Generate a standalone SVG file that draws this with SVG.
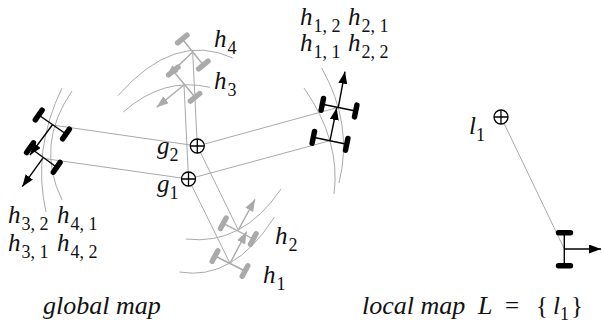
<svg xmlns="http://www.w3.org/2000/svg" width="602" height="324" viewBox="0 0 602 324">
<style>
text{font-family:"Liberation Serif","Times New Roman",serif;font-size:25px;fill:#111}
.i{font-style:italic}
.s{font-size:18px;font-style:normal}
.cap{font-size:26px;font-style:italic}
.g{fill:none;stroke:#aaa;stroke-width:1}
.wk{stroke:#000;stroke-width:5.4;stroke-linecap:round;fill:none}
.wg{stroke:#aaa;stroke-width:5.4;stroke-linecap:round;fill:none}
.ak{stroke:#000;stroke-width:1.4;fill:none}
.ag{stroke:#aaa;stroke-width:1.4;fill:none}
.aka{stroke:#000;stroke-width:1.4;fill:none;marker-end:url(#mk)}
.aga{stroke:#aaa;stroke-width:1.4;fill:none;marker-end:url(#mg)}
.lm{fill:#fff;stroke:#000;stroke-width:1.3}
</style>
<defs>
<marker id="mk" markerUnits="userSpaceOnUse" markerWidth="13" markerHeight="10" refX="12" refY="4.5" orient="auto"><path d="M0 0L12 4.5L0 9Z" fill="#000"/></marker>
<marker id="mg" markerUnits="userSpaceOnUse" markerWidth="13" markerHeight="10" refX="12" refY="4.5" orient="auto"><path d="M0 0L12 4.5L0 9Z" fill="#aaa"/></marker>
<g id="lm"><circle r="7" class="lm"/><path d="M-7 0H7M0 -7V7" class="lm"/></g>
</defs>
<g id="connectors">
<path class="g" d="M197.3 146L338.3 107.3M188.5 179L330 140.7M197.3 146L52.3 125M188.5 179L42.7 158.3M197.3 146L192.7 52M188.5 179L184 85M188.5 179L230 263.3M197.3 146L238.3 230M501 117L564.3 249"/>
<path class="g" d="M321.7 68Q353.6 124.5 339 183M304 88Q341 141 334 194M62 88Q32 150 46 212M72 91Q35 144.5 62 200M118 95.7Q174.6 31 232.7 58M123.3 112Q163.4 76.4 210 87.3M186 239Q242.5 246 281 189M179.3 272Q233.2 281.4 274.3 217.3"/>
</g>
<g id="car-h4"><path class="wg" d="M187 35.2L177.6 42.8M208 61.2L198.6 68.8"/><path class="ag" d="M182.3 39L203.3 65"/><path class="aga" d="M192.7 52L166.7 76.7"/></g>
<g id="car-h3"><path class="wg" d="M178 67.2L168.6 74.8M199.7 93.5L190.3 101.1"/><path class="ag" d="M173.3 71L195 97.3"/><path class="aga" d="M184 85L156.7 107.3"/></g>
<g id="car-h2"><path class="wg" d="M226.1 218L220.5 228.6M256.1 233.7L250.5 244.3"/><path class="ag" d="M223.3 223.3L253.3 239"/><path class="aga" d="M238.3 230L255 199.3"/></g>
<g id="car-h1"><path class="wg" d="M217.8 250.7L212.2 261.3M247.8 265.7L242.2 276.3"/><path class="ag" d="M215 256L245 271"/><path class="aga" d="M230 263.3L246.7 231.7"/></g>
<g id="car-right-upper"><path class="wk" d="M323.5 98.4L321.1 110.2M356.9 105.1L354.5 116.9"/><path class="ak" d="M322.3 104.3L355.7 111"/><path class="aka" d="M338.3 107.3L345 71.7"/></g>
<g id="car-right-lower"><path class="wk" d="M314.5 131.4L312.1 143.2M347.9 138.4L345.5 150.2"/><path class="ak" d="M313.3 137.3L346.7 144.3"/><path class="aka" d="M330 140.7L336.7 108"/></g>
<g id="car-left-upper"><path class="wk" d="M42.1 110.1L35.3 119.9M69.4 129.1L62.6 138.9"/><path class="ak" d="M38.7 115L66 134"/><path class="aka" d="M52.3 125L30 155"/></g>
<g id="car-left-lower"><path class="wk" d="M33.4 142.8L26.6 152.6M60.1 162.4L53.3 172.2"/><path class="ak" d="M30 147.7L56.7 167.3"/><path class="aka" d="M42.7 158.3L22.3 186.7"/></g>
<g id="car-local"><path class="wk" d="M558.5 232.7H570.5M558.5 265.7H570.5"/><path class="ak" d="M564.3 232.7V265.7"/><path class="aka" d="M564.3 249H601"/></g>
<g id="g1"><use href="#lm" x="188.5" y="179"/><text class="i" x="157" y="192">g<tspan class="s" dy="7">1</tspan></text></g>
<g id="g2"><use href="#lm" x="197.3" y="146"/><text class="i" x="157" y="154">g<tspan class="s" dy="7">2</tspan></text></g>
<g id="l1"><use href="#lm" x="501" y="117"/><text class="i" x="469" y="134">l<tspan class="s" dy="7">1</tspan></text></g>
<g id="labels">
<text class="i" x="214" y="47">h<tspan class="s" dy="7" dx="1">4</tspan></text>
<text class="i" x="214" y="89">h<tspan class="s" dy="7" dx="1">3</tspan></text>
<text class="i" x="275" y="244">h<tspan class="s" dy="7" dx="1">2</tspan></text>
<text class="i" x="263" y="283">h<tspan class="s" dy="7" dx="1">1</tspan></text>
<text class="i" x="300" y="25">h<tspan class="s" dy="7" dx="1">1, 2</tspan></text>
<text class="i" x="348" y="25">h<tspan class="s" dy="7" dx="1">2, 1</tspan></text>
<text class="i" x="300" y="51">h<tspan class="s" dy="7" dx="1">1, 1</tspan></text>
<text class="i" x="348" y="51">h<tspan class="s" dy="7" dx="1">2, 2</tspan></text>
<text class="i" x="8" y="223">h<tspan class="s" dy="7" dx="1">3, 2</tspan></text>
<text class="i" x="57" y="223">h<tspan class="s" dy="7" dx="1">4, 1</tspan></text>
<text class="i" x="8" y="251">h<tspan class="s" dy="7" dx="1">3, 1</tspan></text>
<text class="i" x="57" y="251">h<tspan class="s" dy="7" dx="1">4, 2</tspan></text>
<text class="cap" x="43" y="314">global map</text>
<text class="cap" x="362" y="314">local map</text>
<text class="cap" x="478" y="314">L</text>
<text x="505" y="314">=</text>
<text x="536" y="314">{</text>
<text class="i" x="553" y="314">l<tspan class="s" dy="6">1</tspan></text>
<text x="571" y="314">}</text>
</g>
</svg>
